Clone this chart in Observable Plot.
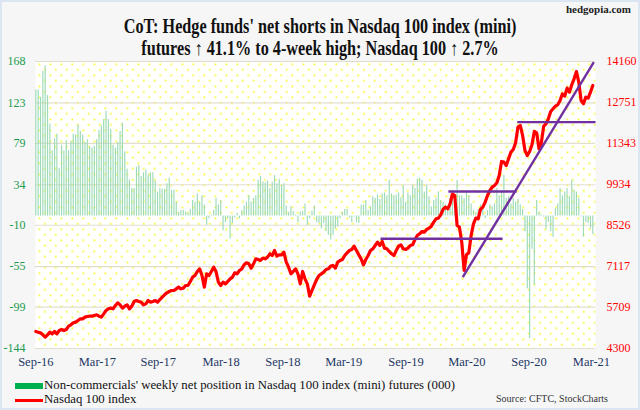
<!DOCTYPE html>
<html>
<head>
<meta charset="utf-8">
<script src="https://cdn.jsdelivr.net/npm/d3@7"></script>
<script src="https://cdn.jsdelivr.net/npm/@observablehq/plot@0.6"></script>
<style>
  html, body { margin: 0; padding: 0; }
  body { width: 640px; height: 410px; overflow: hidden; background: #f6f6f7; font-family: "Liberation Serif", "Times New Roman", serif; }
  #page { position: relative; width: 640px; height: 410px; }
  #edge { position: absolute; left: 0; top: 0; width: 636px; height: 406px; border: 2px solid #dce6f2; pointer-events: none; }
  #site { position: absolute; right: 9px; top: 3px; font-weight: bold; font-size: 11px; color: #222; }
  #title { position: absolute; left: 0; top: 15px; width: 640px; text-align: center; font-weight: bold; font-size: 20px; line-height: 22px; color: #111; transform: scaleX(0.81); transform-origin: 320px 0; }
  #chart { position: absolute; left: 0; top: 55px; }
  .leg { position: absolute; left: 15px; font-size: 12.8px; color: #111; white-space: nowrap; }
  .sw { display: inline-block; width: 28px; vertical-align: middle; margin-right: 1px; }
  #src { position: absolute; right: 32px; top: 393px; font-size: 10px; color: #333; }
</style>
</head>
<body>
<div id="page">
  <div id="site">hedgopia.com</div>
  <div id="title">
    <div>CoT: Hedge funds' net shorts in Nasdaq 100 index (mini)</div>
    <div>futures ↑ 41.1% to 4-week high; Nasdaq 100 ↑ 2.7%</div>
  </div>
  <div id="chart"></div>
  <div class="leg" style="top:378px"><span class="sw" style="height:6px;background:#00b050"></span>Non-commercials' weekly net position in Nasdaq 100 index (mini) futures (000)</div>
  <div class="leg" style="top:392px"><span class="sw" style="height:3px;background:#ff0000"></span>Nasdaq 100 index</div>
  <div id="src">Source: CFTC, StockCharts</div>
  <div id="edge"></div>
</div>
<script>
// ---- data (weekly, first week 2016-09-06) ----
const startDate = "2016-09-06";

const netPosition = [
  137,137,129,157,163,131,100,71,84,89,52,77,71,82,71,81,89,88,99,92,88,80,83,75,74,76,83,93,98,105,114,105,94,77,74,80,92,101,70,51,39,30,30,53,55,43,47,50,
  45,47,47,38,26,30,29,29,35,41,28,28,15,4,6,6,4,3,7,17,15,24,15,22,12,-10,-3,1,6,19,12,17,-16,-7,-3,-25,-8,-2,3,-3,6,11,15,22,15,19,22,39,
  43,37,36,38,30,37,44,35,40,33,35,11,4,10,5,1,-7,4,5,13,-10,-3,5,11,-7,-8,-14,-8,-17,-21,-26,-21,-14,-12,-3,4,7,7,-2,-7,-1,-7,-8,12,12,17,6,10,
  21,19,23,18,24,25,22,39,24,22,23,25,20,33,15,25,22,33,30,40,41,39,26,33,21,10,17,19,26,17,15,12,10,19,24,22,39,22,22,19,26,22,13,6,4,7,12,8,
  -3,6,12,10,13,30,22,26,44,19,21,13,19,15,18,12,7,-17,-79,-133,-36,-75,17,4,1,-1,-14,-7,-17,-23,8,13,30,22,26,30,21,39,28,26,19,-1,-23,-7,-8,-14,-20
];

const nasdaq100 = [
  4884,4861,4838,4770,4690,4770,4861,4804,4884,4804,4918,4953,4918,4953,5067,5113,5182,5205,5262,5319,5319,5377,5399,5411,5411,5434,5457,5411,5377,5491,5606,5663,5686,5663,5777,5869,5800,5686,5754,5800,5663,5754,5915,5949,5915,5892,5800,5834,
  5949,5892,5915,5949,5892,5983,6064,6144,6213,6258,6293,6293,6350,6407,6350,6373,6465,6465,6602,6751,6808,6946,7037,6808,6407,6865,6808,6946,7094,6946,6579,6465,6579,6522,6602,6693,6751,6900,6865,6980,7037,7175,7243,7209,7060,7209,7381,7358,
  7324,7404,7381,7438,7553,7495,7667,7472,7518,7518,7610,7266,7094,6865,6946,7037,6865,6522,6946,6693,6522,6098,6293,6488,6671,6808,6865,6923,7014,7037,7129,7152,7060,7266,7324,7358,7495,7587,7667,7701,7816,7667,7518,7381,7175,7358,7495,7667,
  7724,7839,7953,7839,7976,7747,7724,7633,7553,7495,7667,7816,7862,7724,7701,7747,7839,7862,8045,8183,8240,8320,8297,8389,8434,8503,8641,8755,8778,8893,9076,9156,9099,9271,9614,9557,8526,8469,7953,6980,7518,7587,8183,8583,8778,8755,9076,9156,
  9328,9557,9729,9843,9900,9992,10244,10725,10702,10588,10817,11046,11137,11366,11905,11962,11618,11103,10931,11069,11298,11756,11710,11160,11366,11939,12019,12191,12443,12535,12626,12672,12821,13050,12970,13245,13107,13359,13565,13817,13451,12821,12707,12936,12901,13107,13336
];

const leftTicks = [-144, -99, -55, -10, 34, 79, 123, 168];
const rightTicks = [4300, 5709, 7117, 8526, 9934, 11343, 12751, 14160];
const xTickDates = ["2016-09-06","2017-03-09","2017-09-07","2018-03-14","2018-09-15","2019-03-16","2019-09-18","2020-03-18","2020-09-20","2021-03-26"];

// support / trend lines drawn on the Nasdaq 100 (right) scale
const lineFrom = ["2019-07-04", "2020-01-23", "2020-08-16", "2020-03-06"];
const lineTo   = ["2020-07-03", "2020-08-14", "2021-04-07", "2021-04-02"];
const lineFromValue = [8069, 9695, 12076, 6750];
const lineToValue   = [8069, 9695, 12076, 14140];

// ---- build ----
const parse = d3.utcParse("%Y-%m-%d");
const d0 = parse(startDate);
const dates = netPosition.map((_, i) => d3.utcDay.offset(d0, 7 * i));
const lastDate = dates[dates.length - 1];

// map Nasdaq values onto the left (net position) scale
const [L0, L1] = [leftTicks[0], leftTicks[leftTicks.length - 1]];
const [R0, R1] = [rightTicks[0], rightTicks[rightTicks.length - 1]];
const toY = (n) => L0 + (n - R0) * (L1 - L0) / (R1 - R0);
const rightLabel = new Map(rightTicks.map(t => [toY(t), String(t)]));

const bars = netPosition.map((v, i) => ({date: dates[i], v}));
const ndx = nasdaq100.map((n, i) => ({date: dates[i], y: toY(n)}));
const links = lineFrom.map((f, i) => ({
  x1: parse(f), x2: parse(lineTo[i]), y1: toY(lineFromValue[i]), y2: toY(lineToValue[i])
}));

const chart = Plot.plot({
  width: 640,
  height: 320,
  marginTop: 6,
  marginBottom: 27,
  marginLeft: 35,
  marginRight: 45,
  style: {fontFamily: "'Liberation Serif', 'Times New Roman', serif", fontSize: "12px", background: "transparent", overflow: "visible"},
  x: {type: "utc", domain: [d3.utcDay.offset(d0, -1), d3.utcDay.offset(lastDate, 8)], axis: null},
  y: {domain: [L0, L1], axis: null},
  marks: [
    Plot.frame({fill: "url(#ydots)", stroke: "none"}),
    Plot.gridY(leftTicks, {stroke: "#e2dece", strokeOpacity: 1, strokeWidth: 1.2}),
    Plot.ruleX(bars, {x: "date", y1: 0, y2: "v", stroke: "#9cdab7", strokeWidth: 1.15}),
    Plot.line(ndx, {x: "date", y: "y", stroke: "#ff0000", strokeWidth: 3.2, strokeLinejoin: "round"}),
    Plot.link(links, {x1: "x1", y1: "y1", x2: "x2", y2: "y2", stroke: "#7030a0", strokeWidth: 2.4}),
    Plot.axisY(leftTicks, {anchor: "left", tickSize: 0, tickPadding: 10, fill: "#1a9a4c", tickFormat: d => String(d), fontSize: 12}),
    Plot.axisY(rightTicks.map(toY), {anchor: "right", tickSize: 0, tickPadding: 11, fill: "#ff0000", tickFormat: d => rightLabel.get(d), fontSize: 12}),
    Plot.axisX(xTickDates.map(parse), {anchor: "bottom", tickSize: 0, tickPadding: 9, fill: "#1f3864", tickFormat: d3.utcFormat("%b-%y"), fontSize: 12.5})
  ]
});

// yellow dotted plot-area background pattern
const svg = d3.select(chart);
const pat = svg.insert("defs", ":first-child").append("pattern")
  .attr("id", "ydots").attr("patternUnits", "userSpaceOnUse")
  .attr("x", 35).attr("y", 6).attr("width", 11).attr("height", 11);
pat.append("rect").attr("width", 11).attr("height", 11).attr("fill", "#ffffff");
pat.append("rect").attr("x", 3).attr("y", 2).attr("width", 1.6).attr("height", 1.6).attr("fill", "#f6f600");
pat.append("rect").attr("x", 8.5).attr("y", 7.5).attr("width", 1.6).attr("height", 1.6).attr("fill", "#f6f600");

document.getElementById("chart").appendChild(chart);
</script>
</body>
</html>
